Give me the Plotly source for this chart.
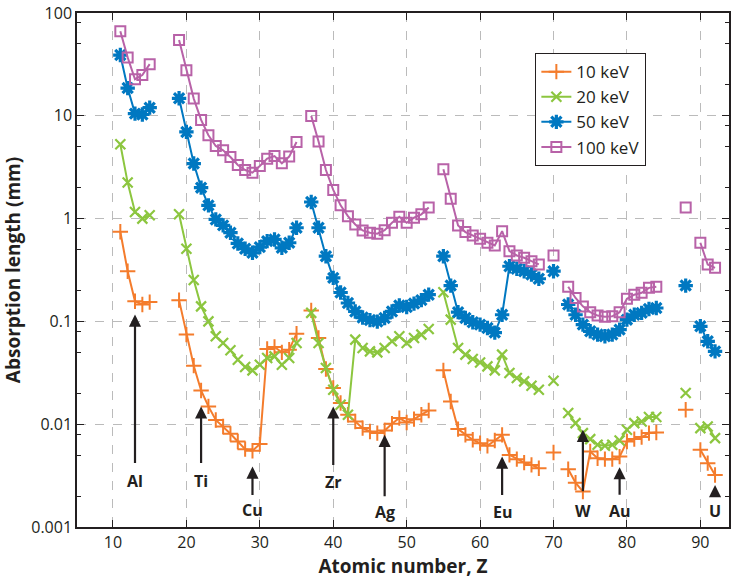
import math
import plotly.graph_objects as go

# Atomic numbers (None separates unconnected groups)
Z = ([11, 12, 13, 14, 15, None]
     + list(range(19, 36)) + [None]
     + list(range(37, 54)) + [None]
     + list(range(55, 69)) + [None]
     + [70, None]
     + list(range(72, 85)) + [None]
     + [88, None]
     + [90, 91, 92])

# Absorption length (mm)
kev10 = [0.745, 0.308, 0.157, 0.146, 0.154, None,
         0.161, 0.0744, 0.0371, 0.0213, 0.0149, 0.0110, 0.0095, 0.00806, 0.00678, 0.00572, 0.00551, 0.0064,
         0.0539, 0.0564, 0.0500, 0.0531, 0.0760, None,
         0.128, 0.0690, 0.0344, 0.0225, 0.01606, 0.01235, 0.01062, 0.00916, 0.00849, 0.00819, 0.00868, 0.0101,
         0.01147, 0.0104, 0.0112, 0.01235, 0.0136, None,
         0.0334, 0.01665, 0.00896, 0.00788, 0.00705, 0.00654, 0.00616, 0.00694, 0.00788, 0.00503, 0.00457,
         0.00423, 0.00402, 0.00373, None,
         0.0053, None,
         0.00365, 0.0027, 0.00221, 0.00542, 0.00467, 0.00457, 0.00457, 0.00484, 0.00678, 0.00716, 0.00749,
         0.00819, 0.0083, None,
         0.0138, None,
         0.00563, 0.00418, 0.00321]

kev20 = [5.29, 2.24, 1.16, 1.0, 1.08, None,
         1.10, 0.509, 0.253, 0.140, 0.100, 0.0716, 0.0617, 0.0523, 0.0424, 0.0360, 0.0334, 0.0379, 0.0441,
         0.0457, 0.0379, 0.0441, 0.0617, None,
         0.121, 0.0617, 0.0352, 0.0216, 0.01546, 0.01235, 0.0665, 0.0552, 0.0511, 0.0500, 0.0552, 0.0640,
         0.0716, 0.0617, 0.0690, 0.0744, 0.0845, None,
         0.192, 0.104, 0.0552, 0.0475, 0.0431, 0.0399, 0.0365, 0.0334, 0.0475, 0.0315, 0.0281, 0.0261,
         0.0237, 0.0216, None,
         0.0265, None,
         0.01283, 0.01025, 0.00819, 0.00716, 0.0063, 0.00616, 0.0063, 0.00694, 0.00882, 0.01025, 0.01063,
         0.01173, 0.01173, None,
         0.0201, None,
         0.00916, 0.0095, 0.00732]

kev50 = [39.0, 18.6, 10.5, 10.3, 12.0, None,
         14.8, 6.97, 3.43, 2.00, 1.345, 0.982, 0.859, 0.729, 0.573, 0.509, 0.465, 0.528, 0.604, 0.627,
         0.520, 0.582, 0.815, None,
         1.45, 0.815, 0.431, 0.265, 0.191, 0.151, 0.125, 0.109, 0.103, 0.0995, 0.108, 0.125, 0.143, 0.138,
         0.149, 0.161, 0.182, None,
         0.431, 0.223, 0.123, 0.108, 0.098, 0.093, 0.0864, 0.0778, 0.116, 0.344, 0.325, 0.308, 0.286,
         0.260, None,
         0.308, None,
         0.146, 0.116, 0.093, 0.0801, 0.0744, 0.0716, 0.0744, 0.0832, 0.104, 0.116, 0.121, 0.132, 0.135, None,
         0.223, None,
         0.0896, 0.064, 0.0511]

kev100 = [66.3, 37.0, 22.7, 24.9, 31.8, None,
          54.6, 27.8, 14.7, 9.12, 6.47, 5.09, 4.62, 3.97, 3.32, 2.97, 2.80, 3.25, 3.83, 4.06, 3.45, 4.01,
          5.57, None,
          9.98, 5.62, 2.97, 1.90, 1.345, 1.057, 0.878, 0.767, 0.729, 0.712, 0.772, 0.912, 1.044, 0.912,
          1.02, 1.10, 1.28, None,
          3.02, 1.56, 0.859, 0.739, 0.686, 0.637, 0.582, 0.548, 0.755, 0.482, 0.438, 0.416, 0.385, 0.358,
          None,
          0.438, None,
          0.217, 0.169, 0.140, 0.123, 0.114, 0.111, 0.112, 0.123, 0.166, 0.182, 0.190, 0.212, 0.217, None,
          1.28, None,
          0.582, 0.358, 0.332]

series_names = ["10 keV", "20 keV", "50 keV", "100 keV"]
series_values = [kev10, kev20, kev50, kev100]
colors = ["#F47C2C", "#8CC63F", "#0078C1", "#B862A8"]
symbols = ["cross-thin", "x-thin", "asterisk", "square-open"]
msizes = [11, 10, 12, 10]
mlw = [2, 2.2, 3.2, 2]

# Element markers: label, Z, arrow-tip value (mm), arrow length (px), label value (mm)
elem_labels = ["Al", "Ti", "Cu", "Zr", "Ag", "Eu", "W", "Au", "U"]
elem_Z = [13, 22, 29, 40, 47, 63, 74, 79, 92]
elem_tip = [0.1165, 0.01486, 0.00387, 0.01486, 0.00788, 0.00484, 0.00881, 0.00382, 0.00256]
elem_len = [150, 58, 30, 60, 63, 40, 63, 29, 12]
elem_lab = [0.00281, 0.00281, 0.00147, 0.00275, 0.0014, 0.0014, 0.00142, 0.00142, 0.00142]

FONT = "Open Sans"
DARK = "#231F20"

fig = go.Figure()
for name, vals, c, s, ms, lw in zip(series_names, series_values, colors, symbols, msizes, mlw):
    fig.add_trace(go.Scatter(
        x=Z, y=vals, name=name, mode="lines+markers", connectgaps=False,
        line=dict(color=c, width=2),
        marker=dict(symbol=s, size=ms, color=c, line=dict(color=c, width=lw)),
    ))

annotations = []
for lab, z, tip, ln, ly in zip(elem_labels, elem_Z, elem_tip, elem_len, elem_lab):
    annotations.append(dict(x=z, y=math.log10(tip), xref="x", yref="y", text="",
                            showarrow=True, ax=0, ay=ln, arrowhead=2, arrowsize=1.1,
                            arrowwidth=2.2, arrowcolor=DARK, standoff=0))
    annotations.append(dict(x=z, y=math.log10(ly), xref="x", yref="y", text="<b>%s</b>" % lab,
                            showarrow=False, font=dict(family=FONT, size=16, color=DARK)))

minor_vals = []
for d in range(-3, 2):
    for m in (2, 5, 8):
        minor_vals.append(m * 10 ** d)

fig.update_layout(
    width=731, height=579,
    margin=dict(l=77, r=0, t=13, b=52),
    paper_bgcolor="white", plot_bgcolor="white",
    font=dict(family=FONT, size=16, color=DARK),
    showlegend=True,
    legend=dict(x=0.703, y=0.922, xanchor="left", yanchor="top",
                bordercolor=DARK, borderwidth=1, bgcolor="white",
                font=dict(family=FONT, size=17, color=DARK),
                itemwidth=30, tracegroupgap=0),
    annotations=annotations,
    xaxis=dict(
        range=[5.1, 93.9], tickmode="array", tickvals=[10, 20, 30, 40, 50, 60, 70, 80, 90],
        ticks="inside", ticklen=7, tickwidth=1.2, tickcolor=DARK,
        showline=True, linecolor=DARK, linewidth=1.5, mirror="ticks",
        showgrid=True, gridcolor="#BBBBBB", griddash="dash", gridwidth=1, zeroline=False,
        tickfont=dict(family=FONT, size=16, color=DARK),
        title=dict(text="<b>Atomic number, Z</b>", font=dict(family=FONT, size=19, color=DARK), standoff=6),
    ),
    yaxis=dict(
        type="log", range=[-3, 2], tickmode="array",
        tickvals=[0.001, 0.01, 0.1, 1, 10, 100], ticktext=["0.001", "0.01", "0.1", "1", "10", "100"],
        ticks="inside", ticklen=7, tickwidth=1.2, tickcolor=DARK,
        showline=True, linecolor=DARK, linewidth=1.5, mirror="ticks",
        showgrid=True, gridcolor="#BBBBBB", griddash="dash", gridwidth=1, zeroline=False,
        minor=dict(tickmode="array", tickvals=minor_vals, ticks="inside", ticklen=4,
                   tickcolor=DARK, showgrid=False),
        tickfont=dict(family=FONT, size=16, color=DARK),
        title=dict(text="<b>Absorption length (mm)</b>", font=dict(family=FONT, size=19, color=DARK), standoff=8),
    ),
)

fig.write_html("out.html")
